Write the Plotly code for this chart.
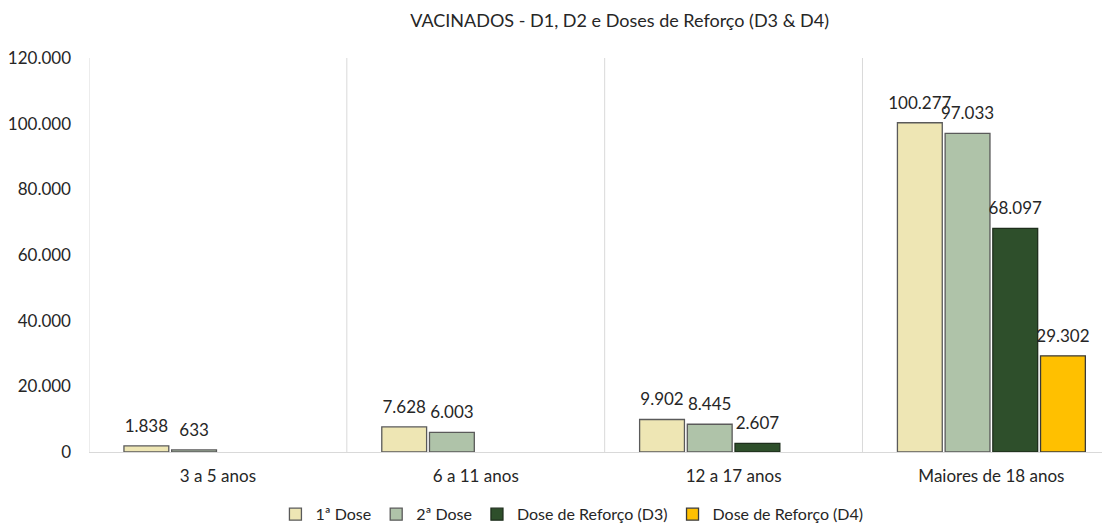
import plotly.graph_objects as go

categories = ["3 a 5 anos", "6 a 11 anos", "12 a 17 anos", "Maiores de 18 anos"]
series_names = ["1ª Dose", "2ª Dose", "Dose de Reforço (D3)", "Dose de Reforço (D4)"]
dose1 = [1838, 7628, 9902, 100277]
dose2 = [633, 6003, 8445, 97033]
dose3 = [None, None, 2607, 68097]
dose4 = [None, None, None, 29302]
colors = ["#EEE6B4", "#AFC3A9", "#2E4F2B", "#FFC000"]
outlines = ["#5A5A5A", "#5A5A5A", "#1E2E1C", "#3A3A3A"]
yticks = [0, 20000, 40000, 60000, 80000, 100000, 120000]

FONT = "Lato, 'Open Sans', sans-serif"
xs = list(range(len(categories)))
all_series = [dose1, dose2, dose3, dose4]

fig = go.Figure()
for k, (name, vals, col, ol) in enumerate(zip(series_names, all_series, colors, outlines)):
    fig.add_trace(go.Bar(
        x=xs, y=vals, name=name, offsetgroup=str(k),
        marker=dict(color=col, line=dict(color=ol, width=1.3)),
        cliponaxis=False,
    ))
for k, vals in enumerate(all_series):
    fig.add_trace(go.Scatter(
        x=xs, y=vals, mode="markers+text", offsetgroup=str(k), showlegend=False,
        marker=dict(size=14, opacity=0), texttemplate="%{y:,.0f}", textposition="top center",
        textfont=dict(size=17, color="#262626", family=FONT), cliponaxis=False, hoverinfo="skip",
    ))

for i in range(len(categories)):
    fig.add_shape(type="line", xref="x", yref="paper", x0=i - 0.5, x1=i - 0.5,
                  y0=0, y1=1, line=dict(color="#D9D9D9", width=1), layer="below")

fig.update_layout(
    width=1102, height=518,
    barmode="group", bargap=0.26, bargroupgap=0.06,
    scattermode="group", scattergap=0.26,
    separators=",.",
    paper_bgcolor="white", plot_bgcolor="white",
    margin=dict(l=81, r=0, t=50, b=74, autoexpand=False),
    font=dict(family=FONT, size=17, color="#262626"),
    title=dict(text="VACINADOS - D1, D2 e Doses de Reforço (D3 & D4)", xref="container",
               x=0.555, xanchor="center", y=0.975, yanchor="middle",
               font=dict(size=18, color="#262626", family=FONT)),
    showlegend=True,
    legend=dict(orientation="h", xref="paper", x=0.473, xanchor="center",
                y=-0.158, yanchor="middle", font=dict(size=16), itemwidth=30,
                traceorder="normal"),
    xaxis=dict(tickmode="array", tickvals=xs, ticktext=categories,
               range=[-0.5, len(categories) - 0.54], showgrid=False, showline=True,
               linecolor="#D9D9D9", linewidth=1, ticks="", tickfont=dict(size=17),
               ticklabelstandoff=9, tickangle=0),
    yaxis=dict(range=[0, 120000], tickvals=yticks, tickformat=",.0f", showgrid=False,
               zeroline=False, showline=False, ticks="", tickfont=dict(size=17),
               ticklabelstandoff=17),
)

fig.write_html("out.html")
